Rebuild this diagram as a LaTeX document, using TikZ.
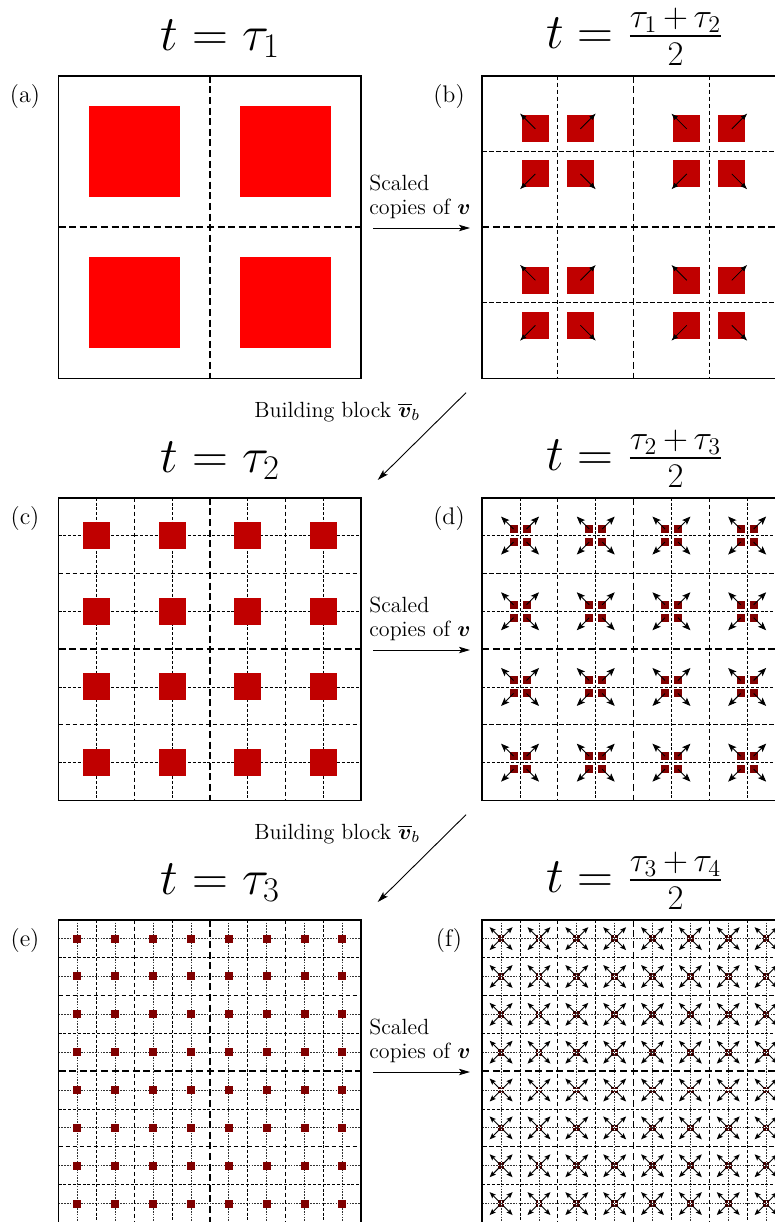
\documentclass[tikz,border=0pt]{standalone}
\usepackage{amsmath,bm}
\usetikzlibrary{arrows.meta}
\definecolor{redA}{HTML}{FF0000}
\definecolor{redB}{HTML}{C00000}
\definecolor{redC}{HTML}{800000}
\definecolor{redD}{HTML}{4A0000}
\def\S{302.8}
\tikzset{
  frame/.style={line width=0.85pt},
  lvlone/.style={line width=0.75pt, dash pattern=on 3.5pt off 1.8pt},
  lvltwo/.style={line width=0.45pt, dash pattern=on 2.2pt off 1.3pt},
  lvlthree/.style={line width=0.4pt, dash pattern=on 1.5pt off 0.9pt},
  lvlfour/.style={line width=0.4pt, black!80, dash pattern=on 0.8pt off 0.6pt},
  vecB/.style={line width=0.4pt, -{Latex[length=3.4pt,width=2.6pt]}},
  vecD/.style={line width=0.45pt, -{Stealth[length=4.2pt,width=3.3pt,inset=0.9pt]}},
  vecF/.style={line width=0.45pt, -{Stealth[length=3.1pt,width=2.5pt,inset=0.6pt]}},
  bigarrow/.style={line width=0.45pt, -{Stealth[length=5.5pt,width=3.2pt,inset=1.2pt]}},
  titletext/.style={anchor=base, inner sep=0pt, font=\fontsize{23.5}{27}\selectfont},
  paneltag/.style={anchor=base, inner sep=0pt, font=\fontsize{12}{14}\selectfont},
  bodytext/.style={anchor=base west, inner sep=0pt, font=\fontsize{11}{13}\selectfont},
}
\newcommand\taufrac[2]{\frac{\tau_{#1}\mskip3mu+\mskip3mu\tau_{#2}}{2}}
\newcommand\drawgrid[3]{%
  \ifnum#3>3
    \foreach \k in {0,...,7}{%
      \draw[lvlfour] ({#1+(2*\k+1)*\S/16},#2) -- ++(0,\S);
      \draw[lvlfour] (#1,{#2+(2*\k+1)*\S/16}) -- ++(\S,0);
    }%
  \fi
  \ifnum#3>2
    \foreach \k in {0,...,3}{%
      \draw[lvlthree] ({#1+(2*\k+1)*\S/8},#2) -- ++(0,\S);
      \draw[lvlthree] (#1,{#2+(2*\k+1)*\S/8}) -- ++(\S,0);
    }%
  \fi
  \ifnum#3>1
    \foreach \k in {0,1}{%
      \draw[lvltwo] ({#1+(2*\k+1)*\S/4},#2) -- ++(0,\S);
      \draw[lvltwo] (#1,{#2+(2*\k+1)*\S/4}) -- ++(\S,0);
    }%
  \fi
  \draw[lvlone] ({#1+\S/2},#2) -- ++(0,\S);
  \draw[lvlone] (#1,{#2+\S/2}) -- ++(\S,0);
}
% cluster: cx cy offset size arrowlen color arrowstyle
\newcommand\cluster[7]{%
  \foreach \sx in {-1,1}{\foreach \sy in {-1,1}{%
    \fill[#6] ({#1+\sx*#3-#4/2},{#2+\sy*#3-#4/2}) rectangle ++(#4,#4);
  }}%
  \foreach \sx in {-1,1}{\foreach \sy in {-1,1}{%
    \draw[#7] ({#1+\sx*#3},{#2+\sy*#3}) -- ++({\sx*#5},{\sy*#5});
  }}%
}
\begin{document}
\begin{tikzpicture}[x=0.5pt,y=-0.5pt]
\useasboundingbox (0,0) rectangle (775,1222);
\clip (0,0) rectangle (775,1222);
\def\XL{58.5}
\def\XR{482.2}
% ---------- panel (a)
\drawgrid{\XL}{75.7}{1}
\foreach \i in {0,1}{\foreach \j in {0,1}{%
  \fill[redA] ({\XL+(2*\i+1)*\S/4-45.4},{75.7+(2*\j+1)*\S/4-45.4}) rectangle ++(90.8,90.8);
}}
\draw[frame] (\XL,75.7) rectangle ++(\S,\S);
% ---------- panel (b)
\drawgrid{\XR}{75.7}{2}
\foreach \i in {0,1}{\foreach \j in {0,1}{%
  \cluster{\XR+(2*\i+1)*\S/4}{75.7+(2*\j+1)*\S/4}{22.5}{27}{15.5}{redB}{vecB}
}}
\draw[frame] (\XR,75.7) rectangle ++(\S,\S);
% ---------- panel (c)
\drawgrid{\XL}{497.7}{3}
\foreach \i in {0,...,3}{\foreach \j in {0,...,3}{%
  \fill[redB] ({\XL+(2*\i+1)*\S/8-13.5},{497.7+(2*\j+1)*\S/8-13.5}) rectangle ++(27,27);
}}
\draw[frame] (\XL,497.7) rectangle ++(\S,\S);
% ---------- panel (d)
\drawgrid{\XR}{497.7}{3}
\foreach \i in {0,...,3}{\foreach \j in {0,...,3}{%
  \cluster{\XR+(2*\i+1)*\S/8}{497.7+(2*\j+1)*\S/8}{6.5}{8}{12.5}{redC}{vecD}
}}
\draw[frame] (\XR,497.7) rectangle ++(\S,\S);
% ---------- panel (e)
\drawgrid{\XL}{919.7}{4}
\foreach \i in {0,...,7}{\foreach \j in {0,...,7}{%
  \fill[redC] ({\XL+(2*\i+1)*\S/16-4},{919.7+(2*\j+1)*\S/16-4}) rectangle ++(8,8);
}}
\draw[frame] (\XL,919.7) rectangle ++(\S,\S);
% ---------- panel (f)
\drawgrid{\XR}{919.7}{4}
\foreach \i in {0,...,7}{\foreach \j in {0,...,7}{%
  \cluster{\XR+(2*\i+1)*\S/16}{919.7+(2*\j+1)*\S/16}{1.95}{2.8}{9.5}{redD}{vecF}
}}
\draw[frame] (\XR,919.7) rectangle ++(\S,\S);
% ---------- titles
\node[titletext] (ta) at (220.5,50) {$t=\tau_1$};
\node[titletext] (tb) at (635,48) {$t=\taufrac{1}{2}$};
\node[titletext] (tc) at (220.5,472) {$t=\tau_2$};
\node[titletext] (td) at (635,470) {$t=\taufrac{2}{3}$};
\node[titletext] (te) at (220.5,894) {$t=\tau_3$};
\node[titletext] (tf) at (635,892) {$t=\taufrac{3}{4}$};
% ---------- panel tags
\node[paneltag] (la) at (25,102) {(a)};
\node[paneltag] (lb) at (449,102) {(b)};
\node[paneltag] (lc) at (25,524) {(c)};
\node[paneltag] (ld) at (449,524) {(d)};
\node[paneltag] (le) at (25,946) {(e)};
\node[paneltag] (lf) at (449,946) {(f)};
% ---------- horizontal arrows
\foreach \r/\dy in {1/0,2/422,3/844}{%
  \node[bodytext] (sc\r) at (369,{190+\dy}) {Scaled};
  \node[bodytext] (cp\r) at (369,{214+\dy}) {copies of $\bm{v}$};
  \coordinate (hs\r) at (373,{228+\dy});
  \coordinate (he\r) at (470,{228+\dy});
  \draw[bigarrow] (hs\r) -- (he\r);
}
% ---------- diagonal arrows
\foreach \r/\dy in {1/0,2/422}{%
  \node[bodytext] (bb\r) at (254,{417+\dy}) {Building block $\overline{\bm{v}}_b$};
  \coordinate (ds\r) at (466,{392.7+\dy});
  \coordinate (de\r) at (377.7,{480+\dy});
  \draw[bigarrow] (ds\r) -- (de\r);
}
\end{tikzpicture}
\end{document}
